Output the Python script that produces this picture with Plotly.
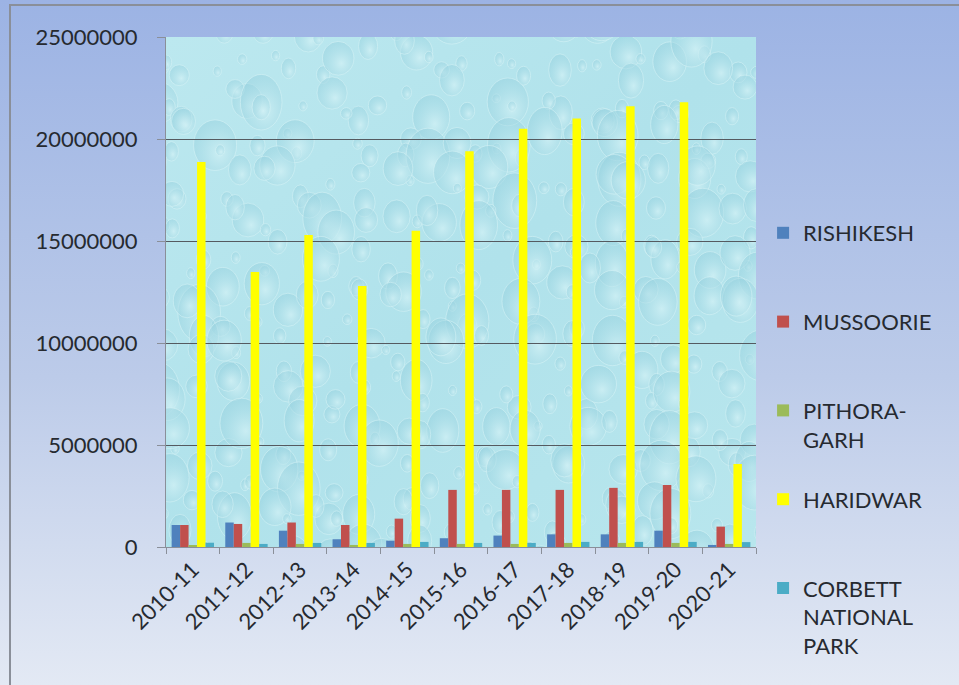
import base64
import plotly.graph_objects as go

# Tourist arrivals by destination, Uttarakhand
years = ["2010-11", "2011-12", "2012-13", "2013-14", "2014-15", "2015-16",
         "2016-17", "2017-18", "2018-19", "2019-20", "2020-21"]

rishikesh = [1080000, 1200000, 800000, 380000, 310000, 430000,
             560000, 620000, 620000, 800000, 100000]
mussoorie = [1080000, 1130000, 1200000, 1080000, 1390000, 2800000,
             2800000, 2800000, 2900000, 3040000, 1000000]
pithoragarh = [60000, 200000, 150000, 100000, 150000, 150000,
               150000, 200000, 200000, 200000, 150000]
haridwar = [18870000, 13480000, 15300000, 12800000, 15500000, 19400000,
            20500000, 21000000, 21600000, 21800000, 4070000]
corbett = [210000, 150000, 200000, 200000, 250000, 200000,
           200000, 250000, 250000, 250000, 240000]

series_names = ["RISHIKESH", "MUSSOORIE", "PITHORA-<br>GARH", "HARIDWAR",
                "CORBETT<br>NATIONAL<br>PARK"]
series_values = [rishikesh, mussoorie, pithoragarh, haridwar, corbett]
series_colors = ["#4f81bd", "#c0504d", "#9bbb59", "#ffff00", "#4bacc6"]

y_ticks = [0, 5000000, 10000000, 15000000, 20000000, 25000000]

W, H = 959, 685
ML, MR, MT, MB = 166, 203, 37, 138
PW, PH = W - ML - MR, H - MT - MB


def svg_uri(svg):
    return "data:image/svg+xml;base64," + base64.b64encode(svg.encode()).decode()


def hash01(a, b, k):
    # small deterministic hash in [0, 1) for the background texture
    v = (a * 374761393 + b * 668265263 + k * 2147483647) & 0xFFFFFFFF
    v = ((v ^ (v >> 13)) * 1274126177) & 0xFFFFFFFF
    return (v ^ (v >> 16)) / 4294967296.0


# Page background: soft blue vertical gradient with a grey frame
page_svg = f"""<svg xmlns='http://www.w3.org/2000/svg' width='{W}' height='{H}'>
<defs><linearGradient id='g' x1='0' y1='0' x2='0' y2='1'>
<stop offset='0' stop-color='#9cb3e4'/><stop offset='0.55' stop-color='#bccbe9'/>
<stop offset='1' stop-color='#e3e9f4'/></linearGradient></defs>
<rect width='{W}' height='{H}' fill='url(#g)'/>
<rect x='10' y='5' width='{W}' height='{H}' fill='none' stroke='#8a8f99' stroke-width='2'/>
</svg>"""

# Plot area: pale aqua with a water-drop texture on a jittered grid
drops = []
cell = 42
for gy in range(-1, PH // cell + 2):
    for gx in range(-1, PW // cell + 2):
        for k in range(2):
            cx = (gx + hash01(gx, gy, 1 + k)) * cell
            cy = (gy + hash01(gx, gy, 3 + k)) * cell
            r = 4 + 18 * hash01(gx, gy, 5 + k) ** 1.6
            ry = r * (1.0 + 0.45 * hash01(gx, gy, 7 + k))
            drops.append(
                f"<ellipse cx='{cx:.1f}' cy='{cy:.1f}' rx='{r:.1f}' ry='{ry:.1f}' "
                f"fill='url(#d)' stroke='#dcf5f8' stroke-width='1' stroke-opacity='0.5'/>"
            )
plot_svg = f"""<svg xmlns='http://www.w3.org/2000/svg' width='{PW}' height='{PH}'>
<defs>
<linearGradient id='b' x1='0' y1='0' x2='1' y2='1'>
<stop offset='0' stop-color='#bce8ef'/><stop offset='0.5' stop-color='#b0e2eb'/>
<stop offset='1' stop-color='#b8e6ed'/></linearGradient>
<radialGradient id='d' cx='0.6' cy='0.65' r='0.75'>
<stop offset='0' stop-color='#d4f2f6' stop-opacity='0.7'/>
<stop offset='0.6' stop-color='#a6dae5' stop-opacity='0.5'/>
<stop offset='1' stop-color='#8ccbda' stop-opacity='0.45'/></radialGradient>
</defs>
<rect width='{PW}' height='{PH}' fill='url(#b)'/>
{''.join(drops)}
</svg>"""

fig = go.Figure()
for i, (name, vals, col) in enumerate(zip(series_names, series_values, series_colors)):
    # pad every legend entry to three lines so entries are evenly spaced
    n_lines = name.count("<br>") + 1
    label = name + "<br>\u00a0" * (3 - n_lines)
    fig.add_trace(go.Bar(
        x=years, y=vals, name=label, marker=dict(color=col, line=dict(width=0)),
        legendgroup=f"g{i}",
    ))

fig.update_layout(
    width=W, height=H,
    margin=dict(l=ML, r=MR, t=MT, b=MB, pad=0),
    paper_bgcolor="#c4d1ec",
    plot_bgcolor="rgba(0,0,0,0)",
    barmode="group", bargap=0.21, bargroupgap=0,
    font=dict(family="Lato, sans-serif", size=22, color="#262a30"),
    showlegend=True,
    legend=dict(
        x=1.012, xanchor="left", y=1 - (212 - MT) / PH, yanchor="top",
        bgcolor="rgba(0,0,0,0)", font=dict(size=22, color="#262a30"),
        tracegroupgap=8, valign="top", itemwidth=30, traceorder="normal",
    ),
    xaxis=dict(
        type="category",
        tickangle=-45, ticks="outside", tickson="boundaries", ticklen=6,
        tickcolor="#8a8f99", showline=True, linecolor="#8a8f99", linewidth=1,
        showgrid=False, tickfont=dict(size=22),
    ),
    yaxis=dict(
        range=[0, 25000000], tickvals=y_ticks, ticktext=[str(v) for v in y_ticks],
        showgrid=True, gridcolor="#555a60", gridwidth=1, zeroline=False,
        showline=True, linecolor="#8a8f99", linewidth=1,
        ticks="outside", ticklen=8, tickcolor="#8a8f99",
        tickfont=dict(size=22), ticklabelstandoff=15,
    ),
    images=[
        dict(source=svg_uri(page_svg), xref="paper", yref="paper",
             x=-ML / PW, y=1 + MT / PH, sizex=W / PW, sizey=H / PH,
             xanchor="left", yanchor="top", sizing="stretch", layer="below"),
        dict(source=svg_uri(plot_svg), xref="paper", yref="paper",
             x=0, y=1, sizex=1, sizey=1,
             xanchor="left", yanchor="top", sizing="stretch", layer="below"),
    ],
)

fig.write_html("out.html")
